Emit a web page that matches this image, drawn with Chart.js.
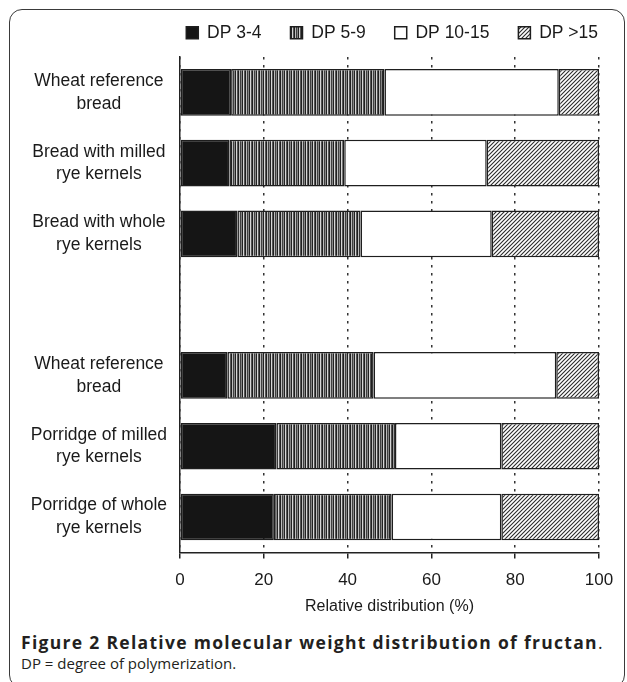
<!DOCTYPE html>
<html>
<head>
<meta charset="utf-8">
<script src="https://cdn.jsdelivr.net/npm/chart.js@4.4.1/dist/chart.umd.min.js"></script>
<style>
  html, body { margin: 0; padding: 0; background: #fff; }
  body { width: 627px; height: 682px; position: relative; overflow: hidden; }
  #moldura { position: absolute; left: 9px; top: 9px; width: 616px; height: 679px; box-sizing: border-box;
             border: 1.5px solid #3a3a3a; border-radius: 13px; }
  #area { position: absolute; left: 0; top: 0; width: 627px; height: 619px; }
  #legenda { position: absolute; left: 21px; top: 631px; font-family: 'Open Sans', sans-serif; color: #231f20; }
  .l1 { font-size: 17.5px; line-height: 22px; letter-spacing: 1.3px; }
  .l2 { font-size: 15px; line-height: 21px; }
</style>
</head>
<body>
<div id="moldura"></div>
<div id="area"><canvas id="grafico"></canvas></div>
<div id="legenda">
  <div class="l1"><b>Figure 2 Relative molecular weight distribution of fructan</b>.</div>
  <div class="l2">DP = degree of polymerization.</div>
</div>
<script>
// categorias (a linha vazia separa pães de mingaus)
const categorias = [
  ['Wheat reference', 'bread'],
  ['Bread with milled', 'rye kernels'],
  ['Bread with whole', 'rye kernels'],
  '',
  ['Wheat reference', 'bread'],
  ['Porridge of milled', 'rye kernels'],
  ['Porridge of whole', 'rye kernels']
];

const nomesSeries = ['DP 3-4', 'DP 5-9', 'DP 10-15', 'DP >15'];

// distribuição relativa (%)
const dp3a4     = [12.2, 11.8, 13.7, null, 11.3, 23.0, 22.4];
const dp5a9     = [36.6, 27.4, 29.4, null, 34.9, 28.3, 28.1];
const dp10a15   = [41.6, 34.0, 31.3, null, 43.6, 25.4, 26.2];
const dpMaior15 = [ 9.6, 26.8, 25.6, null, 10.2, 23.3, 23.3];

const ticksX = [0, 20, 40, 60, 80, 100];


// padrões de preenchimento (listras verticais e hachura)
function listras() {
  const c = document.createElement('canvas');
  c.width = 7; c.height = 4;
  const g = c.getContext('2d');
  const tons = ['#1f1f1f', '#bcbcbc', '#404040', '#858585', '#222222', '#d6d6d6', '#555555'];
  tons.forEach((t, i) => { g.fillStyle = t; g.fillRect(i, 0, 1, 4); });
  return g.createPattern(c, 'repeat');
}

function hachura() {
  const c = document.createElement('canvas');
  c.width = 4; c.height = 4;
  const g = c.getContext('2d');
  g.fillStyle = '#fff';
  g.fillRect(0, 0, 4, 4);
  g.strokeStyle = '#2b2b2b';
  g.lineWidth = 1.1;
  g.beginPath();
  g.moveTo(0, 4); g.lineTo(4, 0);
  g.moveTo(-1, 1); g.lineTo(1, -1);
  g.moveTo(3, 5); g.lineTo(5, 3);
  g.stroke();
  return g.createPattern(c, 'repeat');
}

const preenchimentos = ['#151515', listras(), '#ffffff', hachura()];
const valores = [dp3a4, dp5a9, dp10a15, dpMaior15];

const fonte = 'Liberation Sans, Arial, sans-serif';

// empurra a área do gráfico um pouco para baixo da legenda
const espacoLegenda = {
  id: 'espacoLegenda',
  beforeInit(chart) {
    const fit = chart.legend.fit;
    chart.legend.fit = function () {
      fit.call(this);
      this.height += 5.5;
    };
  }
};

const ctx = document.getElementById('grafico').getContext('2d');

new Chart(ctx, {
  type: 'bar',
  data: {
    labels: categorias,
    datasets: nomesSeries.map((nome, i) => ({
      label: nome,
      data: valores[i],
      backgroundColor: preenchimentos[i],
      borderColor: '#1e1e1e',
      borderWidth: 1.5,
      borderSkipped: false,
      categoryPercentage: 1,
      barPercentage: 0.66
    }))
  },
  options: {
    indexAxis: 'y',
    responsive: true,
    maintainAspectRatio: false,
    animation: false,
    layout: { padding: { top: -5, left: 0, right: 0, bottom: 0 } },
    plugins: {
      tooltip: { enabled: false },
      legend: {
        display: true,
        position: 'top',
        align: 'end',
        labels: {
          boxWidth: 12,
          boxHeight: 12,
          padding: 29,
          color: '#1a1a1a',
          font: { family: fonte, size: 17.5 }
        }
      }
    },
    scales: {
      x: {
        stacked: true,
        min: 0,
        max: 100,
        afterBuildTicks: (s) => { s.ticks = ticksX.map(v => ({ value: v })); },
        ticks: { color: '#1a1a1a', padding: 12, font: { family: fonte, size: 17 } },
        grid: {
          color: '#333',
          lineWidth: 1.5,
          tickLength: 6,
          tickColor: '#222',
          tickWidth: 1.5
        },
        border: { display: true, color: '#222', width: 1.5, dash: [2.5, 5.5] },
        title: {
          display: true,
          text: 'Relative distribution (%)',
          color: '#1a1a1a',
          font: { family: fonte, size: 16 },
          padding: { top: -6, bottom: 3 }
        }
      },
      y: {
        stacked: true,
        afterFit: (s) => { s.width = 180; },
        grid: { display: false },
        border: { display: true, color: '#222', width: 1.5 },
        ticks: {
          color: '#1a1a1a',
          crossAlign: 'center',
          padding: 5,
          font: { family: fonte, size: 17.5, lineHeight: 1.3 }
        }
      },
      margemDireita: {
        type: 'linear',
        position: 'right',
        grid: { display: false },
        border: { display: false },
        ticks: { display: false },
        afterFit: (s) => { s.width = 28; }
      }
    }
  },
  plugins: [espacoLegenda]
});
</script>
</body>
</html>
